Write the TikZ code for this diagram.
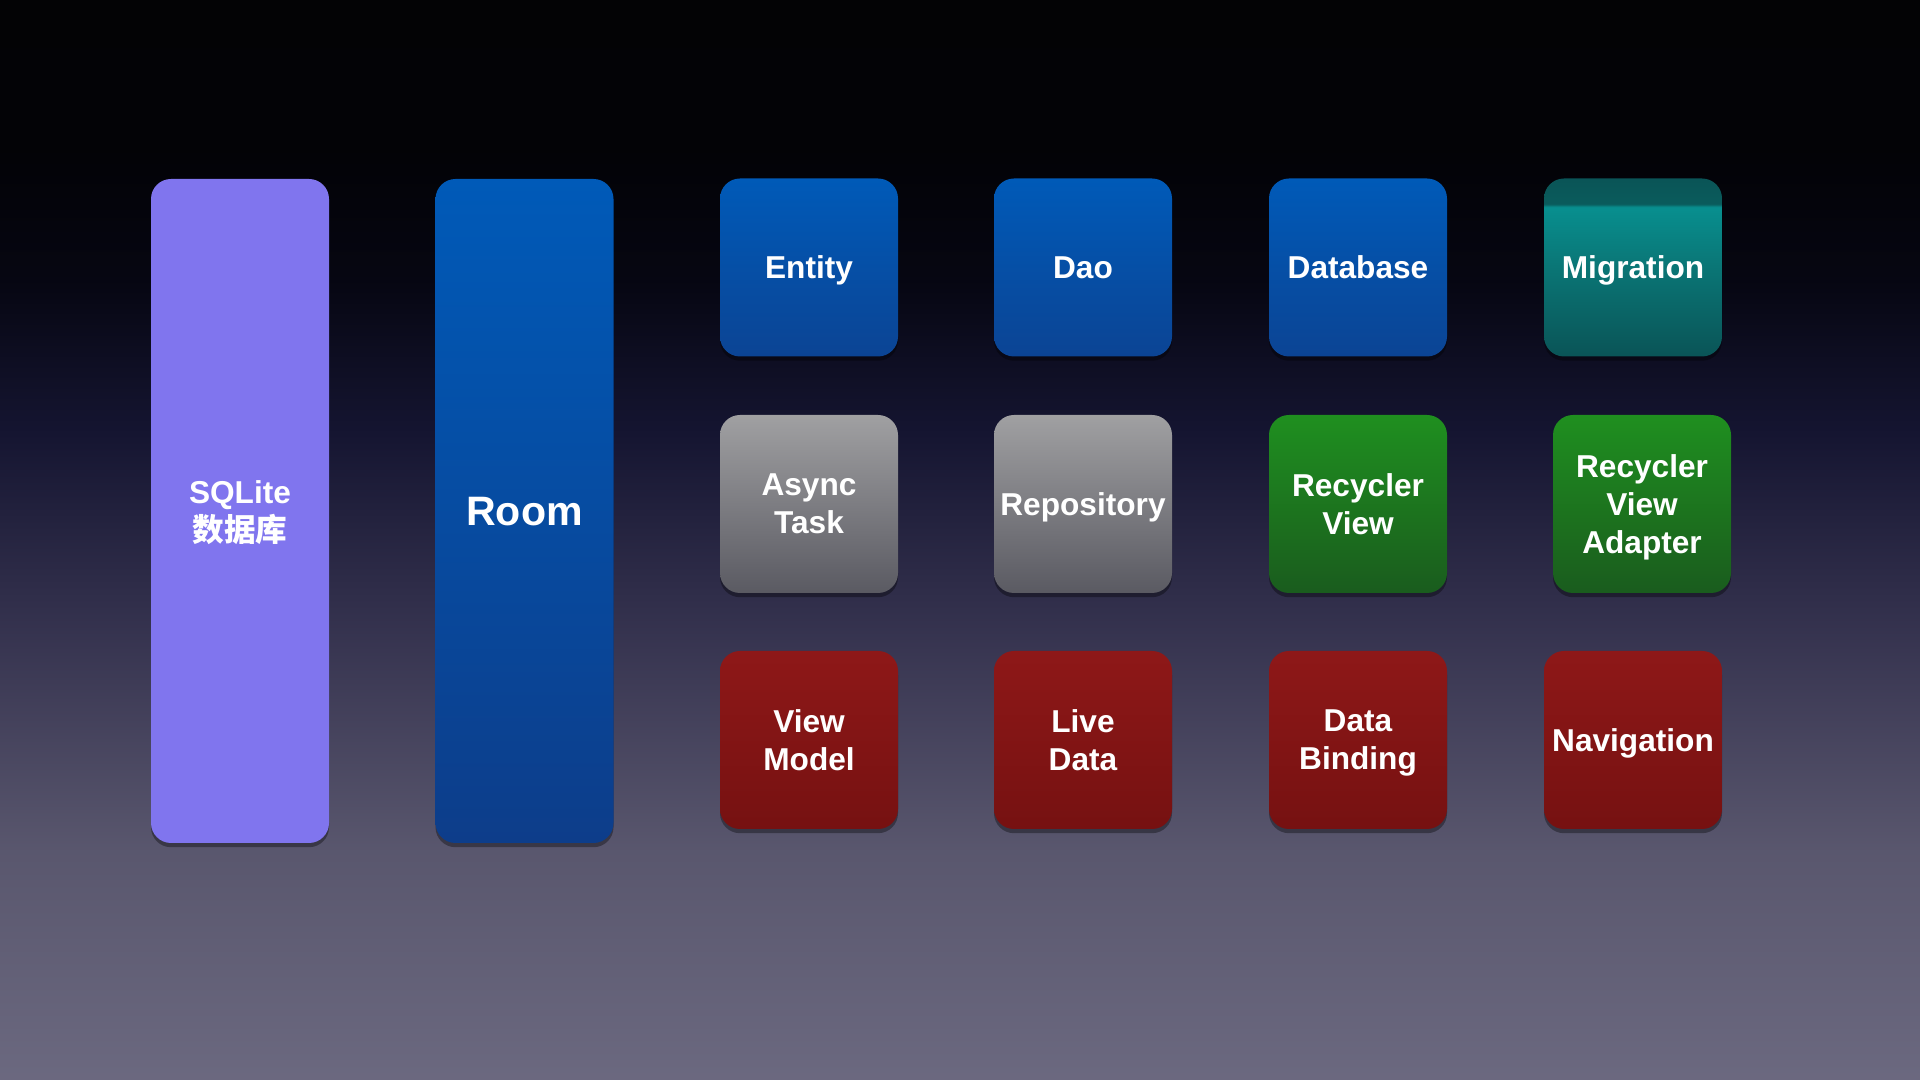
\documentclass[tikz,border=0pt]{standalone}
\usepackage{fontspec}
\setmainfont{Liberation Sans}
\newfontfamily\cjk{Noto Sans CJK SC}
\usetikzlibrary{shadows,positioning}
\definecolor{sqlfill}{RGB}{128,117,238}
\definecolor{blueTop}{RGB}{0,90,184}
\definecolor{blueBot}{RGB}{11,68,148}
\definecolor{roomBot}{RGB}{13,61,138}
\definecolor{greyTop}{RGB}{160,160,162}
\definecolor{greyBot}{RGB}{90,90,98}
\definecolor{greenTop}{RGB}{31,143,31}
\definecolor{greenBot}{RGB}{26,92,30}
\definecolor{redTop}{RGB}{142,24,24}
\definecolor{redBot}{RGB}{118,17,17}
% visible part of a shading runs from 25bp (bottom) to 75bp (top)
\pgfdeclareverticalshading{backdrop}{100bp}{rgb(0bp)=(0.42,0.41,0.50);
  rgb(25bp)=(0.42,0.41,0.50); rgb(35.6bp)=(0.35,0.34,0.43);
  rgb(45.8bp)=(0.21,0.20,0.31); rgb(55.1bp)=(0.08,0.08,0.19);
  rgb(62bp)=(0.025,0.025,0.07); rgb(68bp)=(0.01,0.01,0.025);
  rgb(75bp)=(0.01,0.01,0.02); rgb(100bp)=(0.01,0.01,0.02)}
\pgfdeclareverticalshading{tealshade}{100bp}{rgb(0bp)=(0.04,0.33,0.34);
  rgb(25bp)=(0.04,0.33,0.34); rgb(50bp)=(0.04,0.46,0.46);
  rgb(67bp)=(0.03,0.56,0.56); rgb(67.8bp)=(0.04,0.36,0.36);
  rgb(75bp)=(0.04,0.33,0.34); rgb(100bp)=(0.04,0.33,0.34)}
\pgfdeclareverticalshading{glow}{100bp}{rgb(0bp)=(0.02,0.12,0.12);
  rgb(25bp)=(0.02,0.12,0.12); rgb(75bp)=(0.01,0.02,0.03);
  rgb(100bp)=(0.01,0.02,0.03)}

\begin{document}
\begin{tikzpicture}[
    tile/.style={rounded corners=0.2cm, inner sep=0pt, text=white,
      minimum width=1.78cm, minimum height=1.78cm, align=center,
      text depth=0pt, font=\bfseries\fontsize{9}{10.8}\selectfont,
      drop shadow={opacity=0.35, fill=black, shadow xshift=0pt,
        shadow yshift=-1.2pt}},
    tall/.style={minimum height=6.64cm},
    bluetile/.style={top color=blueTop, bottom color=blueBot},
    greytile/.style={top color=greyTop, bottom color=greyBot},
    greentile/.style={top color=greenTop, bottom color=greenBot},
    redtile/.style={top color=redTop, bottom color=redBot},
    tealtile/.style={shading=tealshade}]
  \def\Ra{8.125}
  \def\Rb{5.76}
  \def\Rc{3.40}
  % --- backdrop ---
  \useasboundingbox (0,0) rectangle (19.2,10.8);
  \shade[shading=backdrop] (0,0) rectangle (19.2,10.8);
  \shade[shading=glow, opacity=0.6] (15.72,8.2) rectangle (16.95,9.0);
  % --- the two tall columns ---
  \node[tile, tall, fill=sqlfill] (sqlite) at (2.40,5.69)
    {SQLite\\{\cjk 数据库}};
  \node[tile, tall, top color=blueTop, bottom color=roomBot,
    font=\bfseries\fontsize{11.7}{14}\selectfont] (room) at (5.245,5.69) {Room};
  % --- first row ---
  \node[tile, bluetile] (entity) at (8.09,\Ra) {Entity};
  \node[tile, bluetile] (dao) at (10.83,\Ra) {Dao};
  \node[tile, bluetile] (database) at (13.58,\Ra) {Database};
  \node[tile, tealtile] (migration) at (16.33,\Ra) {Migration};
  % --- second row ---
  \node[tile, greytile] (asynctask) at (8.09,\Rb) {Async\\Task};
  \node[tile, greytile] (repository) at (10.83,\Rb) {Repository};
  \node[tile, greentile] (recyclerview) at (13.58,\Rb) {Recycler\\View};
  \node[tile, greentile] (adapter) at (16.42,\Rb) {Recycler\\View\\Adapter};
  % --- third row ---
  \node[tile, redtile] (viewmodel) at (8.09,\Rc) {View\\Model};
  \node[tile, redtile] (livedata) at (10.83,\Rc) {Live\\Data};
  \node[tile, redtile] (databinding) at (13.58,\Rc) {Data\\Binding};
  \node[tile, redtile] (navigation) at (16.33,\Rc) {Navigation};
\end{tikzpicture}
\end{document}
